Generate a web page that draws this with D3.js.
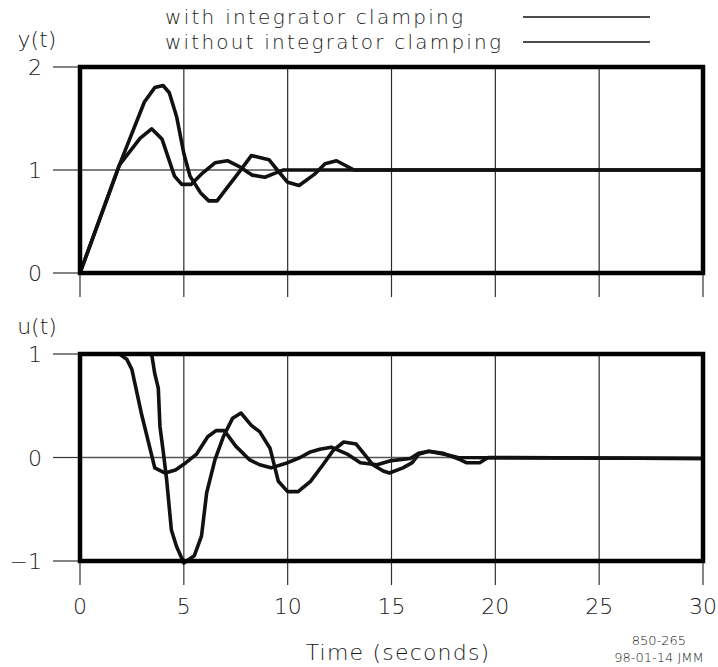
<!DOCTYPE html>
<html>
<head>
<meta charset="utf-8">
<script src="https://cdn.jsdelivr.net/npm/d3@7"></script>
<style>
  html, body { margin: 0; padding: 0; background: #fff; }
  svg { display: block; }
  text { font-family: "DejaVu Sans", "Liberation Sans", sans-serif; font-weight: 200; fill: #1a1a1a; }
</style>
</head>
<body>
<svg id="chart" width="718" height="667"></svg>
<script>
// Output response y(t)
const yTimeWith     = [0, 1.9, 2.9, 3.45, 3.95, 4.55, 4.9, 5.35, 5.9, 6.5, 7.1, 7.7, 8.3, 8.9, 9.4, 9.8, 30];
const yWith         = [0, 1.05, 1.31, 1.40, 1.30, 0.94, 0.86, 0.86, 0.97, 1.07, 1.09, 1.03, 0.95, 0.93, 0.97, 1.0, 1.0];
const yTimeWithout  = [0, 1.9, 3.1, 3.6, 4.0, 4.3, 4.65, 5.0, 5.3, 5.8, 6.2, 6.6, 7.05, 7.7, 8.25, 9.1, 9.5, 10.0, 10.55, 11.3, 11.8, 12.35, 13.2, 30];
const yWithout      = [0, 1.05, 1.66, 1.80, 1.82, 1.75, 1.52, 1.16, 0.94, 0.78, 0.70, 0.70, 0.82, 0.99, 1.14, 1.10, 1.0, 0.88, 0.85, 0.96, 1.06, 1.09, 1.0, 1.0];

// Controller output u(t)
const uTimeWith     = [0, 1.9, 2.25, 2.5, 2.95, 3.6, 4.1, 4.6, 5.1, 5.6, 6.15, 6.55, 6.95, 7.5, 8.15, 8.65, 9.2, 10.0, 10.6, 11.05, 11.55, 12.1, 12.9, 13.5, 14.3, 15.0, 15.9, 16.3, 16.8, 17.6, 18.2, 30];
const uWith         = [1, 1, 0.95, 0.85, 0.43, -0.10, -0.15, -0.12, -0.05, 0.03, 0.20, 0.26, 0.26, 0.11, -0.02, -0.07, -0.10, -0.05, 0.0, 0.05, 0.08, 0.10, 0.03, -0.05, -0.07, -0.03, -0.01, 0.04, 0.06, 0.03, 0.0, -0.01];
const uTimeWithout  = [0, 3.45, 3.6, 3.77, 3.85, 4.0, 4.17, 4.4, 4.65, 5.0, 5.5, 5.85, 6.1, 6.5, 6.9, 7.35, 7.75, 8.25, 8.65, 9.15, 9.55, 10.0, 10.5, 11.1, 11.7, 12.2, 12.7, 13.3, 13.7, 14.1, 14.6, 14.9, 15.55, 16.0, 16.3, 16.8, 17.5, 18.3, 18.6, 19.25, 19.65, 30];
const uWithout      = [1, 1, 0.81, 0.67, 0.30, 0.07, -0.21, -0.70, -0.86, -1.02, -0.95, -0.76, -0.34, -0.02, 0.20, 0.38, 0.43, 0.31, 0.25, 0.09, -0.23, -0.33, -0.33, -0.23, -0.07, 0.07, 0.15, 0.13, 0.03, -0.07, -0.13, -0.15, -0.10, -0.05, 0.03, 0.06, 0.04, -0.02, -0.05, -0.05, 0.0, -0.01];

// Tick labels
const timeTicks   = [0, 5, 10, 15, 20, 25, 30];
const yTicks      = [0, 1, 2];
const uTicks      = [-1, 0, 1];
const legendNames = ["with integrator clamping", "without integrator clamping"];

const svg = d3.select("#chart");

const x = d3.scaleLinear().domain([0, 30]).range([80, 703]);
const yScale = d3.scaleLinear().domain([0, 2]).range([273, 67]);
const uScale = d3.scaleLinear().domain([-1, 1]).range([561, 354]);

function panel(scale, ticks, gridVals, name, nameY, series) {
  const [y0, y1] = scale.range();
  const g = svg.append("g");

  // thin grid lines
  g.selectAll(".vg").data(timeTicks.slice(1, -1)).join("line")
    .attr("x1", d => x(d)).attr("x2", d => x(d))
    .attr("y1", y1).attr("y2", y0)
    .attr("stroke", "#2a2a2a").attr("stroke-width", 1.2);
  g.selectAll(".hg").data(gridVals).join("line")
    .attr("x1", x(0)).attr("x2", x(30))
    .attr("y1", d => scale(d)).attr("y2", d => scale(d))
    .attr("stroke", "#555").attr("stroke-width", 1.4);

  // left tick marks and labels
  g.selectAll(".lt").data(ticks).join("line")
    .attr("x1", 53).attr("x2", 80)
    .attr("y1", d => scale(d)).attr("y2", d => scale(d))
    .attr("stroke", "#333").attr("stroke-width", 1.2);
  g.selectAll(".ll").data(ticks).join("text")
    .attr("x", 42).attr("y", d => scale(d) + 8)
    .attr("text-anchor", "end")
    .attr("font-size", 22)
    .text(d => d < 0 ? "\u2212" + Math.abs(d) : d);

  // bottom tick marks
  g.selectAll(".bt").data(timeTicks).join("line")
    .attr("x1", d => x(d)).attr("x2", d => x(d))
    .attr("y1", y0).attr("y2", y0 + 24)
    .attr("stroke", "#333").attr("stroke-width", 1.2);

  // axis name
  g.append("text").attr("x", 37).attr("y", nameY)
    .attr("text-anchor", "middle").attr("font-size", 22).text(name);

  // curves
  const line = d3.line().x(d => x(d[0])).y(d => scale(d[1]));
  series.forEach(s => {
    g.append("path")
      .attr("d", line(d3.zip(s[0], s[1])))
      .attr("fill", "none")
      .attr("stroke", "#111")
      .attr("stroke-width", 3.6)
      .attr("stroke-linejoin", "round");
  });

  // heavy frame
  g.append("rect")
    .attr("x", x(0)).attr("y", y1)
    .attr("width", x(30) - x(0)).attr("height", y0 - y1)
    .attr("fill", "none").attr("stroke", "#000").attr("stroke-width", 4.5);
}

panel(yScale, yTicks, [1], "y(t)", 47, [[yTimeWith, yWith], [yTimeWithout, yWithout]]);
panel(uScale, uTicks, [0], "u(t)", 334, [[uTimeWith, uWith], [uTimeWithout, uWithout]]);

// x tick labels (shared time axis)
svg.selectAll(".xl").data(timeTicks).join("text")
  .attr("x", d => x(d)).attr("y", 614)
  .attr("text-anchor", "middle").attr("font-size", 22)
  .text(d => d);

svg.append("text").attr("x", 398).attr("y", 660)
  .attr("text-anchor", "middle").attr("font-size", 22)
  .attr("letter-spacing", 1.2)
  .text("Time (seconds)");

svg.append("text").attr("x", 659).attr("y", 645)
  .attr("text-anchor", "middle").attr("font-size", 13).text("850-265");
svg.append("text").attr("x", 659).attr("y", 662)
  .attr("text-anchor", "middle").attr("font-size", 13).text("98-01-14  JMM");

// legend
const legendY = [17, 42];
const legendTextWidth = [298, 336];
legendNames.forEach((name, i) => {
  svg.append("text").attr("x", 165).attr("y", legendY[i] + 7)
    .attr("font-size", 20).attr("textLength", legendTextWidth[i])
    .attr("lengthAdjust", "spacing")
    .text(name);
  svg.append("line")
    .attr("x1", 523).attr("x2", 650)
    .attr("y1", legendY[i]).attr("y2", legendY[i])
    .attr("stroke", "#111").attr("stroke-width", 1.5);
});
</script>
</body>
</html>
